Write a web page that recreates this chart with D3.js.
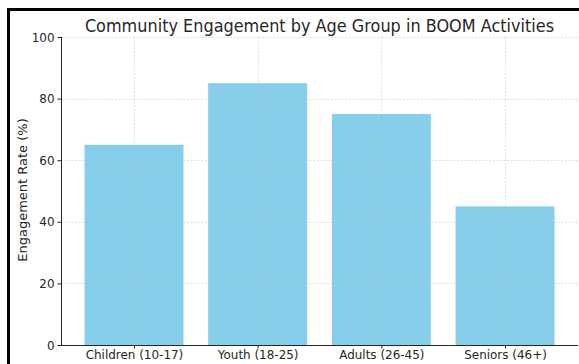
<!DOCTYPE html>
<html><head><meta charset="utf-8">
<script src="https://cdn.jsdelivr.net/npm/d3@7"></script>
<style>body{margin:0;background:#fff;} svg{display:block;font-family:"DejaVu Sans",sans-serif;}</style>
</head><body>
<svg id="c" width="579" height="364"></svg>
<script>
const categories = ["Children (10-17)", "Youth (18-25)", "Adults (26-45)", "Seniors (46+)"];
const engagement = [65, 85, 75, 45];
const yTicks = [0, 20, 40, 60, 80, 100];
const title = "Community Engagement by Age Group in BOOM Activities";
const yLabel = "Engagement Rate (%)";

(function () {
const svg = d3.select("#c");
const mL = 61, mR = 578, mT = 37, mB = 345;
const SQ = 0.92; // slight horizontal squeeze seen in the reference
const TXT = "#262626";

const n = categories.length;
const x = d3.scaleLinear().domain([-0.59, n - 1 + 0.59]).range([mL, mR]);
const y = d3.scaleLinear().domain([0, 100]).range([mB, mT]);
const bw = x(0.8) - x(0);

svg.append("rect").attr("width", 579).attr("height", 364).attr("fill", "#fff");

// bars
svg.append("g").selectAll("rect").data(engagement).join("rect")
  .attr("x", (d, i) => x(i) - bw / 2)
  .attr("y", d => y(d))
  .attr("width", bw)
  .attr("height", d => y(0) - y(d))
  .attr("fill", "#87CEEB");

// grid
const grid = svg.append("g").attr("stroke", "#b0b0b0").attr("stroke-opacity", 0.55)
  .attr("stroke-dasharray", "1.8,1.8").attr("stroke-width", 0.8);
grid.selectAll(".gy").data(yTicks).join("line")
  .attr("x1", mL).attr("x2", mR)
  .attr("y1", d => Math.round(y(d)) + 0.5).attr("y2", d => Math.round(y(d)) + 0.5);
grid.selectAll(".gx").data(categories).join("line")
  .attr("x1", (d, i) => Math.round(x(i)) + 0.5).attr("x2", (d, i) => Math.round(x(i)) + 0.5)
  .attr("y1", mT).attr("y2", mB);

// y axis
const yAxis = d3.axisLeft(y).tickValues(yTicks).tickSize(3.5).tickPadding(6);
const gy = svg.append("g").attr("transform", `translate(${mL},0)`).call(yAxis);
gy.select(".domain").remove();
gy.selectAll("text").attr("font-size", 13).attr("fill", TXT).attr("font-family", "DejaVu Sans")
  .attr("x", -6.5 / SQ).attr("transform", `scale(${SQ},1)`);
gy.selectAll("line").attr("stroke", TXT);
svg.append("line").attr("x1", mL + 0.5).attr("x2", mL + 0.5).attr("y1", mT).attr("y2", mB)
  .attr("stroke", TXT).attr("stroke-width", 1);

// x axis
const xAxis = d3.axisBottom(x).tickValues(d3.range(n)).tickFormat(i => categories[i]).tickSize(3.5).tickPadding(2);
const gx = svg.append("g").attr("transform", `translate(0,${mB})`).call(xAxis);
gx.select(".domain").remove();
gx.selectAll("text").attr("font-size", 13).attr("fill", TXT).attr("font-family", "DejaVu Sans")
  .attr("y", 14).attr("dy", 0).attr("transform", `scale(${SQ},1)`);
gx.selectAll("line").attr("stroke", TXT);
svg.append("line").attr("x1", mL).attr("x2", mR).attr("y1", mB + 0.5).attr("y2", mB + 0.5)
  .attr("stroke", TXT).attr("stroke-width", 1);

// title
const cx = (mL + mR) / 2;
svg.append("text").attr("transform", `translate(${cx},31.5) scale(${SQ},1)`).attr("text-anchor", "middle")
  .attr("font-size", 17.5).attr("fill", TXT).text(title);

// y label
svg.append("text").attr("transform", `translate(26.5,190) scale(${SQ},1) rotate(-90)`).attr("text-anchor", "middle")
  .attr("font-size", 13).attr("fill", TXT).text(yLabel);

// black frame (left and top)
svg.append("rect").attr("x", 7).attr("y", 8).attr("width", 3).attr("height", 356).attr("fill", "#000");
svg.append("rect").attr("x", 7).attr("y", 8).attr("width", 572).attr("height", 3).attr("fill", "#000");
})();
</script>
</body></html>
